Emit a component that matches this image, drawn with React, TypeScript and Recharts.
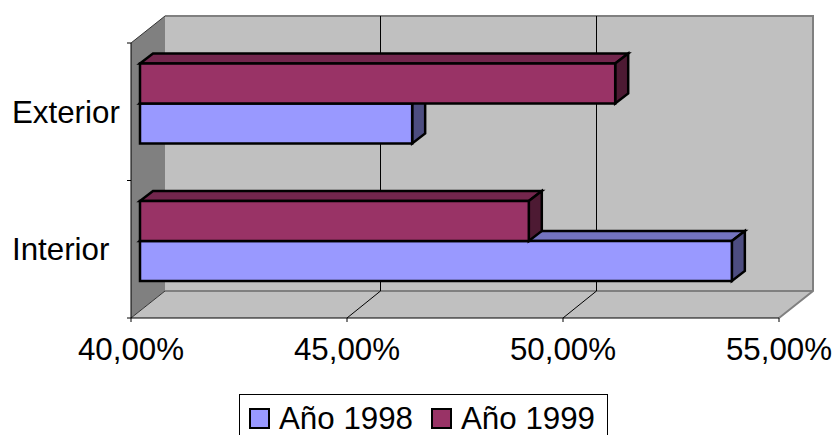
import {
  Bar, BarChart, Legend, ReferenceArea, XAxis, YAxis,
} from "recharts";

const categories = ["Interior", "Exterior"];
const ano1998 = [53.7, 46.3];
const ano1999 = [49.0, 51.0];
const xTicks = [40, 45, 50, 55];
const gridTicks = [45, 50];

const data = categories.map((label, i) => ({
  label, "Año 1998": ano1998[i], "Año 1999": ano1999[i],
}));

const FONT = "'Liberation Sans', Arial, sans-serif";
const WALL = "#c0c0c0";
const WALL_DARK = "#808080";

// Excel style fake 3D: how far the back wall sits from the axis plane
const DEPTH_X = 34;
const DEPTH_Y = 27;
// bars float in the middle of the floor, with a smaller depth of their own
const BAR_SHIFT_X = 9;
const BAR_SHIFT_Y = 8.5;
const BAR_DX = 13;
const BAR_DY = 10;

const shades: Record<string, { top: string; side: string }> = {
  "#9999ff": { top: "#7373bf", side: "#4d4d80" },
  "#993366": { top: "#73264d", side: "#4d1a33" },
};

// slot: 1 moves the bar one slot down in its band, -1 one slot up.
// 1998 has to paint first but sit below 1999, and recharts ties the two together.
function Box3D(props: any) {
  const { fill, slot } = props;
  const { width: w, height: h } = props;
  const x = props.x + BAR_SHIFT_X;
  const y = props.y - BAR_SHIFT_Y + slot * h;
  const s = shades[fill];
  return (
    <g stroke="#000" strokeWidth={2.5} strokeLinejoin="miter">
      <polygon fill={s.top} points={`${x},${y} ${x + BAR_DX},${y - BAR_DY} ${x + w + BAR_DX},${y - BAR_DY} ${x + w},${y}`} />
      <polygon fill={s.side} points={`${x + w},${y} ${x + w + BAR_DX},${y - BAR_DY} ${x + w + BAR_DX},${y + h - BAR_DY} ${x + w},${y + h}`} />
      <rect x={x} y={y} width={w} height={h} fill={fill} />
    </g>
  );
}

function Walls({ x, y, width, height }: any) {
  const r = x + width;
  const b = y + height;
  const bx = x + DEPTH_X;
  const by = y - DEPTH_Y;
  const bb = b - DEPTH_Y;
  const br = r + DEPTH_X;
  return (
    <g>
      <polygon fill={WALL_DARK} points={`${x},${y} ${bx},${by} ${bx},${bb} ${x},${b}`} />
      <rect x={bx} y={by} width={width} height={height} fill={WALL} />
      <polygon fill={WALL} points={`${x},${b} ${bx},${bb} ${br},${bb} ${r},${b}`} />
      <polyline fill="none" stroke={WALL_DARK} strokeWidth={2} points={`${bx},${by} ${br},${by} ${br},${bb} ${r},${b}`} />
      <line x1={bx} y1={bb} x2={br} y2={bb} stroke={WALL_DARK} strokeWidth={2} />
      <line x1={x} y1={b} x2={bx} y2={bb} stroke="#333" strokeWidth={1} />
      <line x1={x} y1={y} x2={bx} y2={by} stroke="#333" strokeWidth={1} />
      {/* category ticks sit on the band edges here, not the band centres */}
      {[y, y + height / 2, b].map((t) => (
        <line key={t} x1={x - 4} y1={t} x2={x} y2={t} stroke="#000" strokeWidth={1} />
      ))}
    </g>
  );
}

// zero width reference area, so it stays under the bars unlike a ReferenceLine
function GridLine({ x, y, height }: any) {
  const b = y + height;
  const back = Math.round(x + DEPTH_X) - 0.5; // crisp 1px column
  return (
    <g stroke="#000" strokeWidth={1}>
      <line x1={back} y1={y - DEPTH_Y} x2={back} y2={b - DEPTH_Y} />
      <line x1={x} y1={b} x2={back} y2={b - DEPTH_Y} />
    </g>
  );
}

function CategoryTick({ y, payload }: any) {
  return (
    <text x={12} y={y} dy={11} fontSize={31.3} fontFamily={FONT} fill="#000" textAnchor="start">
      {payload.value}
    </text>
  );
}

function LegendBox({ payload }: any) {
  return (
    <div style={{
      boxSizing: "border-box", width: 369, height: 60, border: "1.5px solid #000", background: "#fff",
      position: "relative", fontFamily: FONT, fontSize: 31.3, color: "#000",
    }}>
      {(payload || []).map((p: any, i: number) => (
        <div key={p.value}>
          <div style={{
            position: "absolute", left: 9 + i * 182, top: 13, width: 21, height: 21,
            boxSizing: "border-box", border: "2px solid #000", background: p.color,
          }} />
          <div style={{ position: "absolute", left: 39 + i * 182, top: 6, lineHeight: "36px", whiteSpace: "nowrap" }}>
            {p.value}
          </div>
        </div>
      ))}
    </div>
  );
}

export default function App() {
  return (
    <div style={{ position: "absolute", left: 0, top: 0, width: 834, height: 435, overflow: "hidden", background: "#fff" }}>
      <BarChart
        width={834}
        height={435}
        layout="vertical"
        data={data}
        margin={{ top: 43, right: 55, bottom: 57, left: 11 }}
        barCategoryGap={29}
        barGap={0}
        style={{ fontFamily: FONT }}
      >
        <ReferenceArea x1={40} x2={55} shape={<Walls />} fill="none" stroke="none" ifOverflow="visible" />
        {gridTicks.map((t) => (
          <ReferenceArea key={t} x1={t} x2={t} shape={<GridLine />} ifOverflow="visible" />
        ))}
        <XAxis
          type="number"
          domain={[40, 55]}
          ticks={xTicks}
          height={60}
          stroke="#000"
          tickSize={4}
          tickMargin={16}
          tick={{ fill: "#000", fontSize: 31.3, fontFamily: FONT }}
          tickFormatter={(v: number) => v.toFixed(2).replace(".", ",") + "%"}
          interval={0}
        />
        <YAxis
          type="category"
          dataKey="label"
          reversed
          width={120}
          stroke="#000"
          tickLine={false}
          tick={<CategoryTick />}
        />
        <Legend
          verticalAlign="middle"
          align="center"
          content={<LegendBox />}
          wrapperStyle={{ left: 239, top: 394, width: 369, height: 60 }}
        />
        <Bar dataKey="Año 1998" fill="#9999ff" shape={<Box3D slot={1} />} isAnimationActive={false} />
        <Bar dataKey="Año 1999" fill="#993366" shape={<Box3D slot={-1} />} isAnimationActive={false} />
      </BarChart>
    </div>
  );
}
